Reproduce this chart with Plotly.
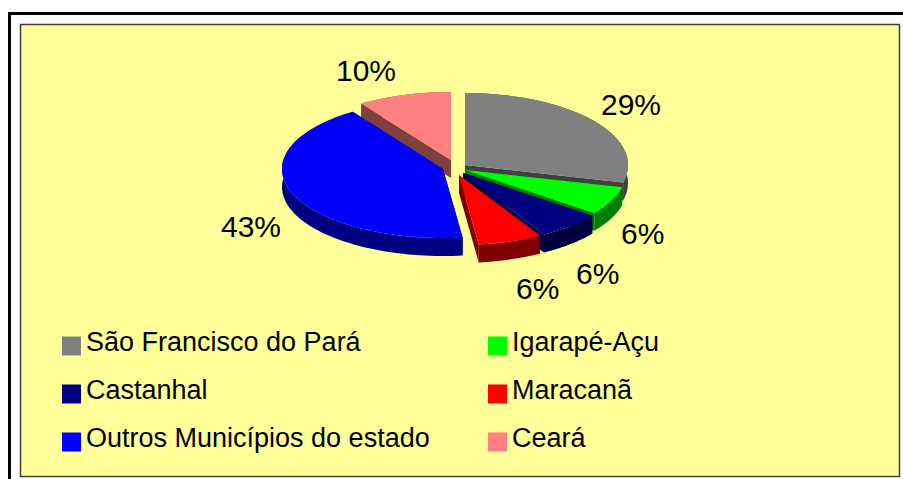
import numpy as np
import plotly.graph_objects as go

# ---- data ----
categories = ["São Francisco do Pará", "Igarapé-Açu", "Castanhal",
              "Maracanã", "Outros Municípios do estado", "Ceará"]
shares = [29.0, 6.4, 6.4, 6.4, 42.6, 9.5]

# ---- style ----
top_colors = ["#808080", "#00ff00", "#000080", "#ff0000", "#0000ff", "#ff8080"]
wall_colors = ["#404040", "#008000", "#000040", "#800000", "#000080", "#804040"]
apex_x = [465, 465, 463, 459, 443, 451]
apex_y = [165, 170, 173, 175, 169, 160]
radius_x = [163, 162, 162, 162, 161, 160]
radius_y = [72, 71, 71, 70, 69, 68]
label_x = [631, 642, 597, 537, 251, 366]
label_y = [104, 233, 273, 288, 226, 70]
legend_x = [62, 488, 62, 488, 62, 488]
legend_y = [346, 346, 394, 394, 442, 442]
draw_order = [5, 0, 1, 2, 3, 4]
DEPTH = 18
FONT = "Liberation Sans, Arial, sans-serif"

fig = go.Figure()

# card background and frame
shapes = [
    dict(type="rect", x0=20.5, y0=24.5, x1=899.5, y1=476.5, fillcolor="#ffff99",
         line=dict(color="#404040", width=1.5), layer="below"),
    dict(type="line", x0=9.5, y0=13, x1=9.5, y1=479, line=dict(color="black", width=3), layer="below"),
    dict(type="line", x0=8, y0=13.5, x1=903, y1=13.5, line=dict(color="black", width=3), layer="below"),
]

edges = np.cumsum([0] + shares) / sum(shares) * 2 * np.pi


def poly(xs, ys, color):
    fig.add_trace(go.Scatter(x=xs, y=ys, mode="none", fill="toself", fillcolor=color,
                             hoverinfo="skip", showlegend=False))


for i in draw_order:
    a = np.linspace(edges[i], edges[i + 1], 80)
    ax, ay = apex_x[i], apex_y[i]
    px = ax + radius_x[i] * np.sin(a)
    py = ay - radius_y[i] * np.cos(a)
    # outer wall
    poly(list(px) + list(px[::-1]), list(py) + list(py[::-1] + DEPTH), wall_colors[i])
    # radial walls
    for k in (0, -1):
        poly([ax, px[k], px[k], ax], [ay, py[k], py[k] + DEPTH, ay + DEPTH], wall_colors[i])
    # top face
    poly([ax] + list(px), [ay] + list(py), top_colors[i])

annotations = []
for i, name in enumerate(categories):
    annotations.append(dict(x=label_x[i], y=label_y[i], text=f"{round(shares[i])}%", showarrow=False,
                            xanchor="center", yanchor="middle",
                            font=dict(family=FONT, size=30, color="black")))
    annotations.append(dict(x=legend_x[i] + 22, y=legend_y[i] - 4, text=name, showarrow=False,
                            xanchor="left", yanchor="middle",
                            font=dict(family=FONT, size=27, color="black")))
    fig.add_trace(go.Scatter(x=[legend_x[i] + 9.5], y=[legend_y[i]], mode="markers",
                             marker=dict(symbol="square", size=19, color=top_colors[i],
                                         line=dict(width=0)),
                             hoverinfo="skip", showlegend=False))

fig.update_layout(
    width=903, height=479, autosize=False,
    margin=dict(l=0, r=0, t=0, b=0),
    paper_bgcolor="white", plot_bgcolor="white",
    shapes=shapes, annotations=annotations, showlegend=False,
    xaxis=dict(range=[0, 903], visible=False, fixedrange=True),
    yaxis=dict(range=[479, 0], visible=False, fixedrange=True),
)
fig.write_html("out.html", config={"displayModeBar": False},
               post_script="document.body.style.margin='0';document.body.style.overflow='hidden';")
